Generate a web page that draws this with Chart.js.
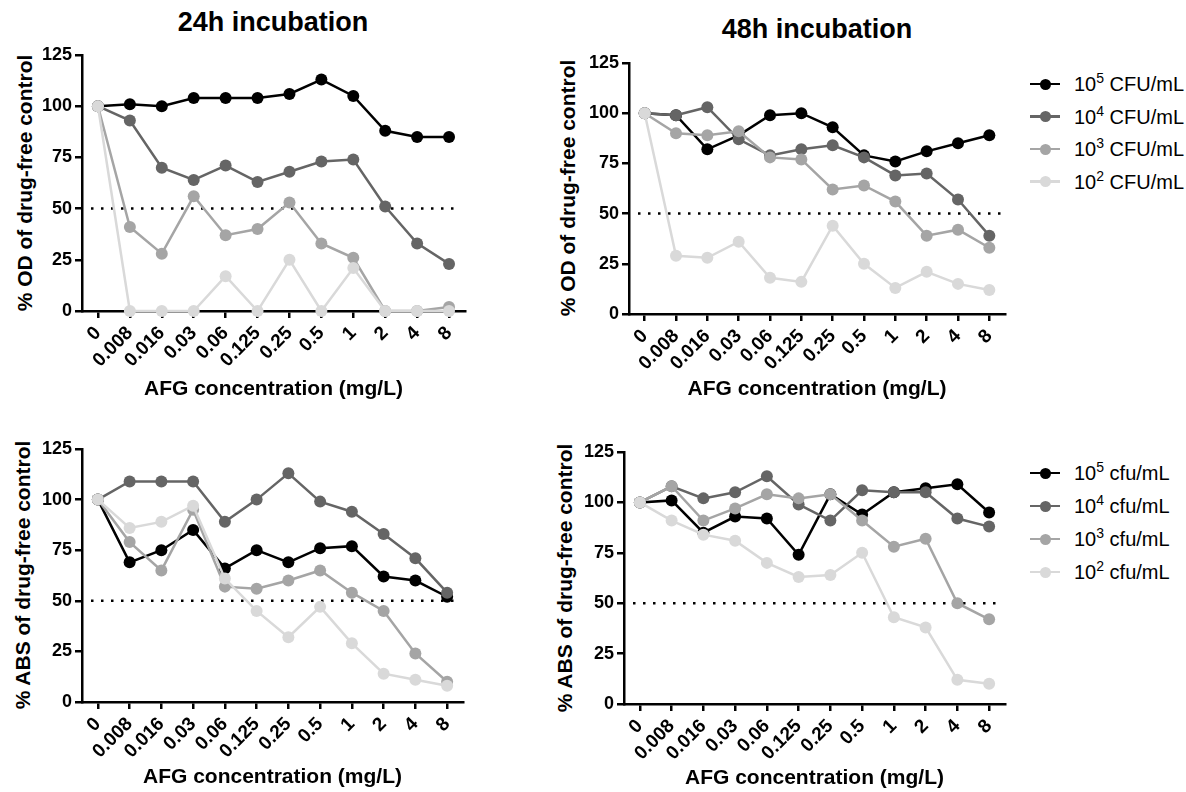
<!DOCTYPE html>
<html>
<head>
<meta charset="utf-8">
<script src="https://cdn.jsdelivr.net/npm/chart.js@4.4.1/dist/chart.umd.min.js"></script>
<style>
    body { margin: 0; background: #fff; width: 1186px; height: 792px; position: relative; overflow: hidden;
           font-family: "Liberation Sans", Arial, sans-serif; color: #000; }
    canvas { position: absolute; }
    .ttl { position: absolute; font-weight: bold; font-size: 27px; line-height: 27px; white-space: nowrap; transform: translateX(-50%); }
    .ytl { position: absolute; font-weight: bold; font-size: 21px; line-height: 22px; white-space: nowrap;
           transform: translate(-50%, -50%) rotate(-90deg); }
    .row { position: absolute; left: 1030px; height: 0; }
    .row .ln { position: absolute; left: 0; width: 30px; top: -1.25px; height: 2.5px; }
    .row .dot { position: absolute; left: 10px; width: 11px; height: 11px; top: -5.5px; border-radius: 50%; }
    .row .tx { position: absolute; left: 44px; top: -12px; line-height: 24px; font-size: 20px; white-space: nowrap; }
    .row sup { font-size: 14px; position: relative; top: -8px; vertical-align: baseline; }
</style>
</head>
<body>

<div class="ttl" style="left:273px; top:9px;">24h incubation</div>
<div class="ttl" style="left:817px; top:16px;">48h incubation</div>

<div class="ytl" style="left:25px; top:183px;">% OD of drug-free control</div>
<div class="ytl" style="left:568px; top:188px;">% OD of drug-free control</div>
<div class="ytl" style="left:23px; top:575px;">% ABS of drug-free control</div>
<div class="ytl" style="left:565px; top:578px;">% ABS of drug-free control</div>

<canvas id="od24" width="480" height="402" style="left:0; top:0;"></canvas>
<canvas id="od48" width="480" height="402" style="left:540px; top:0;"></canvas>
<canvas id="abs24" width="480" height="390" style="left:0; top:400px;"></canvas>
<canvas id="abs48" width="480" height="391" style="left:540px; top:400px;"></canvas>

<div id="legendTop"></div>
<div id="legendBottom"></div>

<script>
// x categories (AFG concentration, mg/L)
const concentrations = ['0', '0.008', '0.016', '0.03', '0.06', '0.125', '0.25', '0.5', '1', '2', '4', '8'];
const threshold = 50;

// 24h, % OD
const od24_1e5 = [100, 101, 100, 104, 104, 104, 106, 113, 105, 88, 85, 85];
const od24_1e4 = [100, 93, 70, 64, 71, 63, 68, 73, 74, 51, 33, 23];
const od24_1e3 = [100, 41, 28, 56, 37, 40, 53, 33, 26, 0, 0, 2];
const od24_1e2 = [100, 0, 0, 0, 17, 0, 25, 0, 21, 0, 0, 0];

// 48h, % OD
const od48_1e5 = [100, 99, 82, 89, 99, 100, 93, 79, 76, 81, 85, 89];
const od48_1e4 = [100, 99, 103, 87, 79, 82, 84, 78, 69, 70, 57, 39];
const od48_1e3 = [100, 90, 89, 91, 78, 77, 62, 64, 56, 39, 42, 33];
const od48_1e2 = [100, 29, 28, 36, 18, 16, 44, 25, 13, 21, 15, 12];

// 24h, % ABS
const abs24_1e5 = [100, 69, 75, 85, 66, 75, 69, 76, 77, 62, 60, 52];
const abs24_1e4 = [100, 109, 109, 109, 89, 100, 113, 99, 94, 83, 71, 54];
const abs24_1e3 = [100, 79, 65, 95, 57, 56, 60, 65, 54, 45, 24, 10];
const abs24_1e2 = [100, 86, 89, 97, 61, 45, 32, 47, 29, 14, 11, 8];

// 48h, % ABS
const abs48_1e5 = [100, 101, 85, 93, 92, 74, 104, 94, 105, 107, 109, 95];
const abs48_1e4 = [100, 108, 102, 105, 113, 99, 91, 106, 105, 105, 92, 88];
const abs48_1e3 = [100, 108, 91, 97, 104, 102, 104, 91, 78, 82, 50, 42];
const abs48_1e2 = [100, 91, 84, 81, 70, 63, 64, 75, 43, 38, 12, 10];

const seriesExponents = ['5', '4', '3', '2'];
const seriesColors = ['#000000', '#656565', '#a5a5a5', '#d9d9d9'];

const FONT = '"Liberation Sans", Arial, sans-serif';

// dotted 50% line drawn under the data
const halfLine = {
    id: 'halfLine',
    beforeDatasetsDraw(chart) {
        const { ctx, chartArea, scales } = chart;
        const y = scales.y.getPixelForValue(threshold);
        ctx.save();
        ctx.strokeStyle = '#000';
        ctx.lineWidth = 2.5;
        ctx.setLineDash([2.5, 7.5]);
        ctx.beginPath();
        ctx.moveTo(chartArea.left + 9, y);
        ctx.lineTo(chartArea.right - 4, y);
        ctx.stroke();
        ctx.restore();
    }
};

function buildPanel(id, series, box) {
    return new Chart(document.getElementById(id), {
        type: 'line',
        data: {
            labels: concentrations,
            datasets: series.map((values, i) => ({
                label: '10^' + seriesExponents[i],
                data: values,
                borderColor: seriesColors[i],
                backgroundColor: seriesColors[i],
                pointBackgroundColor: seriesColors[i],
                pointBorderColor: seriesColors[i],
                pointBorderWidth: 0,
                pointRadius: 6,
                borderWidth: 2.5,
                tension: 0,
                clip: false,
                order: series.length - i
            }))
        },
        options: {
            responsive: false,
            animation: false,
            devicePixelRatio: 1,
            layout: { padding: { top: box.padTop, right: box.padRight, left: 0, bottom: 0 } },
            plugins: { legend: { display: false }, tooltip: { enabled: false } },
            scales: {
                x: {
                    offset: true,
                    grid: { drawOnChartArea: false, offset: false, color: '#000', lineWidth: 2.5, tickLength: 7 },
                    border: { color: '#000', width: 2.5 },
                    ticks: {
                        color: '#000', autoSkip: false, minRotation: 45, maxRotation: 45, padding: 4,
                        font: { family: FONT, size: 19, weight: 'bold' }
                    },
                    title: {
                        display: true, text: 'AFG concentration (mg/L)', color: '#000', padding: 0,
                        font: { family: FONT, size: 21, weight: 'bold' }
                    },
                    afterFit: s => { s.height = box.xHeight; }
                },
                y: {
                    min: 0,
                    max: 125,
                    grid: { drawOnChartArea: false, color: '#000', lineWidth: 2.5, tickLength: 7 },
                    border: { color: '#000', width: 2.5 },
                    ticks: { stepSize: 25, color: '#000', padding: 3, font: { family: FONT, size: 18, weight: 'bold' } },
                    afterFit: s => { s.width = box.yWidth; }
                }
            }
        },
        plugins: [halfLine]
    });
}

buildPanel('od24', [od24_1e5, od24_1e4, od24_1e3, od24_1e2], { padTop: 55, padRight: 15, yWidth: 82, xHeight: 91 });
buildPanel('od48', [od48_1e5, od48_1e4, od48_1e3, od48_1e2], { padTop: 63, padRight: 15, yWidth: 89, xHeight: 88 });
buildPanel('abs24', [abs24_1e5, abs24_1e4, abs24_1e3, abs24_1e2], { padTop: 49, padRight: 17, yWidth: 82, xHeight: 88 });
buildPanel('abs48', [abs48_1e5, abs48_1e4, abs48_1e3, abs48_1e2], { padTop: 52, padRight: 15, yWidth: 84, xHeight: 87 });

// HTML legends (superscript exponents)
function buildLegend(containerId, unit, firstY, step) {
    const box = document.getElementById(containerId);
    seriesExponents.forEach((exp, i) => {
        const row = document.createElement('div');
        row.className = 'row';
        row.style.top = (firstY + step * i) + 'px';
        row.innerHTML =
            `<div class="ln" style="background:${seriesColors[i]}"></div>` +
            `<div class="dot" style="background:${seriesColors[i]}"></div>` +
            `<div class="tx">10<sup>${exp}</sup> ${unit}</div>`;
        box.appendChild(row);
    });
}

buildLegend('legendTop', 'CFU/mL', 84, 32.5);
buildLegend('legendBottom', 'cfu/mL', 473, 33);
</script>
</body>
</html>
